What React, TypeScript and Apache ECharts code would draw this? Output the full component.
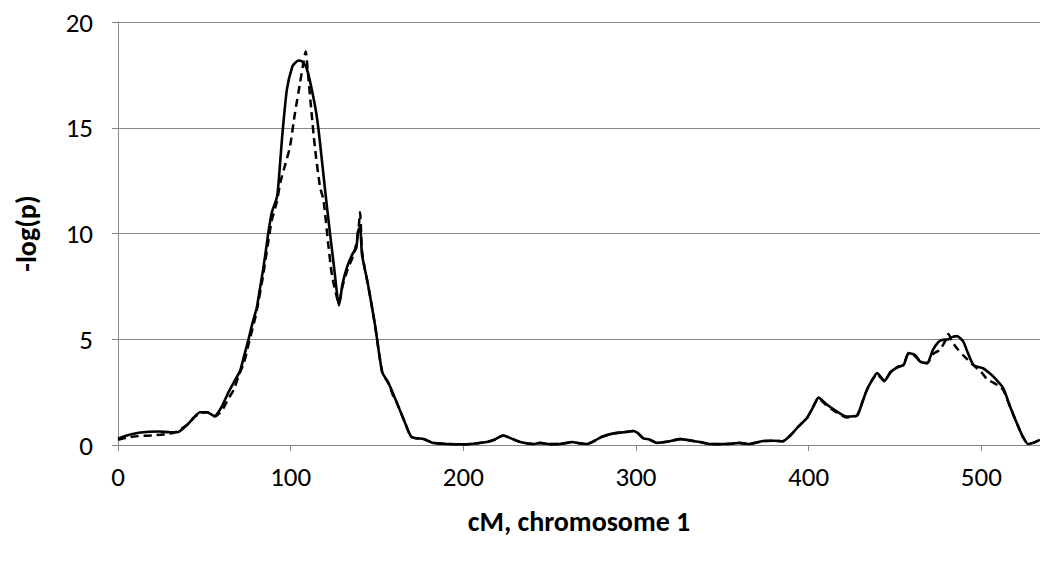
import React, { useEffect, useRef } from "react";
import * as echarts from "echarts";

const solidCM = [0, 5, 12, 18, 24, 30, 35, 40, 44, 47.5, 51.5, 56, 60, 64, 68, 70.7, 73, 75.5, 78, 80.4, 82, 84, 86, 87, 89, 92, 93, 95, 97.8, 101, 103, 104.8, 107, 109.3, 112, 115, 117, 120, 122.8, 125, 128, 130, 132.6, 136, 138, 139, 140.2, 141.3, 143, 145, 149, 153, 156.7, 159, 161.5, 166, 170, 177, 182.5, 190, 200, 213.6, 218, 223, 228, 233, 240.5, 244.5, 250, 256, 260, 263, 267, 271.7, 276, 280, 287, 293, 298.4, 301, 304, 308, 312, 318, 325.6, 331, 337, 343, 348.7, 355, 360, 366, 370, 373.6, 380, 385, 390, 394, 399, 402, 405.7, 410, 416, 422, 428, 431, 433.7, 437, 439.6, 444, 447, 449, 452, 455, 457.8, 461.7, 464.6, 468.6, 472, 475, 477.3, 481, 483, 486, 489.5, 492, 495.5, 501, 504, 507, 512.7, 516.7, 521.4, 524, 527, 530, 534];
const solidLogP = [0.3, 0.45, 0.58, 0.63, 0.64, 0.6, 0.62, 0.95, 1.3, 1.55, 1.55, 1.37, 1.8, 2.5, 3.1, 3.5, 4.2, 4.96, 5.8, 6.5, 7.3, 8.27, 9.4, 10.0, 10.97, 11.7, 12.4, 14.5, 16.8, 17.9, 18.1, 18.18, 18.1, 17.8, 16.9, 15.6, 14.3, 12.0, 10.0, 8.5, 6.6, 7.6, 8.4, 9.06, 9.3, 10.1, 10.3, 9.0, 8.3, 7.5, 5.6, 3.45, 2.93, 2.5, 2.0, 1.1, 0.38, 0.28, 0.1, 0.05, 0.03, 0.14, 0.25, 0.45, 0.3, 0.14, 0.05, 0.1, 0.04, 0.05, 0.1, 0.14, 0.08, 0.05, 0.2, 0.38, 0.55, 0.6, 0.66, 0.57, 0.33, 0.25, 0.1, 0.15, 0.28, 0.22, 0.14, 0.05, 0.04, 0.06, 0.1, 0.05, 0.12, 0.19, 0.2, 0.18, 0.5, 0.87, 1.27, 1.7, 2.24, 1.95, 1.6, 1.34, 1.39, 2.0, 2.6, 3.1, 3.4, 3.03, 3.4, 3.55, 3.7, 3.78, 4.35, 4.25, 3.94, 3.87, 4.5, 4.85, 4.96, 5.0, 5.1, 5.15, 4.9, 4.4, 3.78, 3.63, 3.45, 3.23, 2.69, 1.81, 0.87, 0.4, 0.05, 0.1, 0.24];

const dashedCM = [0, 5, 12, 20, 28, 33, 40, 44, 47.5, 51.5, 56, 60, 64, 67, 70, 73, 76, 80, 84, 87, 89, 92, 94, 97, 99.6, 102.5, 105.4, 107, 108.7, 110, 112, 114, 117, 119, 121.7, 124, 128, 130, 133, 136, 138, 139.3, 140.2, 141.3, 143, 145, 149, 153, 156.7, 159, 161.5, 166, 170, 177, 182.5, 190, 200, 213.6, 218, 223, 228, 233, 240.5, 244.5, 250, 256, 260, 263, 267, 271.7, 276, 280, 287, 293, 298.4, 301, 304, 308, 312, 318, 325.6, 331, 337, 343, 348.7, 355, 360, 366, 370, 373.6, 380, 385, 390, 394, 399, 402, 405.7, 410, 416, 422, 428, 431, 433.7, 437, 439.6, 444, 447, 449, 452, 455, 457.8, 461.7, 464.6, 468.6, 472, 476, 479, 481, 483, 486.6, 490, 495, 500, 503.4, 507, 510, 512.7, 516.7, 521.4, 524, 527, 530, 534];
const dashedLogP = [0.25, 0.35, 0.42, 0.45, 0.52, 0.6, 0.95, 1.3, 1.5, 1.55, 1.35, 1.6, 2.2, 2.6, 3.3, 3.9, 4.9, 6.2, 8.0, 9.6, 10.6, 11.5, 12.4, 13.3, 14.1, 15.7, 17.1, 17.9, 18.6, 17.6, 15.8, 14.1, 12.2, 11.6, 9.55, 8.0, 6.7, 7.5, 8.3, 8.9, 9.5, 10.2, 11.0, 9.2, 8.3, 7.5, 5.6, 3.45, 2.9, 2.4, 2.0, 1.1, 0.38, 0.28, 0.1, 0.05, 0.03, 0.14, 0.25, 0.45, 0.3, 0.14, 0.05, 0.1, 0.04, 0.05, 0.1, 0.14, 0.08, 0.05, 0.2, 0.38, 0.55, 0.6, 0.66, 0.57, 0.33, 0.25, 0.1, 0.15, 0.28, 0.22, 0.14, 0.05, 0.04, 0.06, 0.1, 0.05, 0.12, 0.19, 0.2, 0.18, 0.5, 0.87, 1.27, 1.7, 2.2, 1.9, 1.55, 1.3, 1.39, 2.0, 2.6, 3.1, 3.35, 3.0, 3.4, 3.55, 3.7, 3.78, 4.3, 4.2, 3.94, 3.87, 4.3, 4.5, 4.9, 5.25, 4.9, 4.5, 4.2, 3.8, 3.45, 3.1, 2.95, 2.8, 2.6, 1.81, 0.87, 0.4, 0.05, 0.1, 0.24];

const xTicks = [0, 100, 200, 300, 400, 500];
const xTitle = "cM, chromosome 1";
const yTitle = "-log(p)";

const FONT = "Carlito, Calibri, Lato, sans-serif";
const GRID = "#878787";

export default function App() {
  const ref = useRef<HTMLDivElement>(null);
  useEffect(() => {
    document.body.style.margin = "0";
    const chart = echarts.init(ref.current!, null, { renderer: "svg" });
    const pairs = (xs: number[], ys: number[]) => xs.map((x, i) => [x, ys[i]]);
    chart.setOption({
      animation: false,
      backgroundColor: "#ffffff",
      grid: { left: 118, right: 0, top: 22, bottom: 119, containLabel: false },
      xAxis: {
        type: "value",
        min: 0,
        max: 534,
        interval: 100,
        name: xTitle,
        nameLocation: "middle",
        nameGap: 62,
        nameTextStyle: { fontFamily: FONT, fontSize: 28, fontWeight: "bold", color: "#000" },
        axisLine: { show: true, lineStyle: { color: GRID, width: 1 } },
        axisTick: { show: true, inside: false, length: 6, customValues: xTicks, lineStyle: { color: GRID } },
        axisLabel: { customValues: xTicks, margin: 18, fontFamily: FONT, fontSize: 27, color: "#000" },
        splitLine: { show: false },
      },
      yAxis: {
        type: "value",
        min: 0,
        max: 20,
        interval: 5,
        name: yTitle,
        nameLocation: "middle",
        nameGap: 78,
        nameRotate: 90,
        nameTextStyle: { fontFamily: FONT, fontSize: 28, fontWeight: "bold", color: "#000" },
        axisLine: { show: true, lineStyle: { color: GRID, width: 1 } },
        axisTick: { show: true, inside: false, length: 6, lineStyle: { color: GRID } },
        axisLabel: { margin: 25, fontFamily: FONT, fontSize: 27, color: "#000" },
        splitLine: { show: true, lineStyle: { color: GRID, width: 1 } },
      },
      series: [
        {
          type: "line",
          data: pairs(dashedCM, dashedLogP),
          showSymbol: false,
          smooth: 0.2,
          lineStyle: { color: "#000", width: 2.5, type: [8, 5] },
          z: 2,
        },
        {
          type: "line",
          data: pairs(solidCM, solidLogP),
          showSymbol: false,
          smooth: 0.2,
          lineStyle: { color: "#000", width: 2.6 },
          z: 3,
        },
      ],
    });
    return () => chart.dispose();
  }, []);
  return (
    <div
      ref={ref}
      style={{ position: "absolute", left: 0, top: 0, width: 1040, height: 564, background: "#fff" }}
    />
  );
}
